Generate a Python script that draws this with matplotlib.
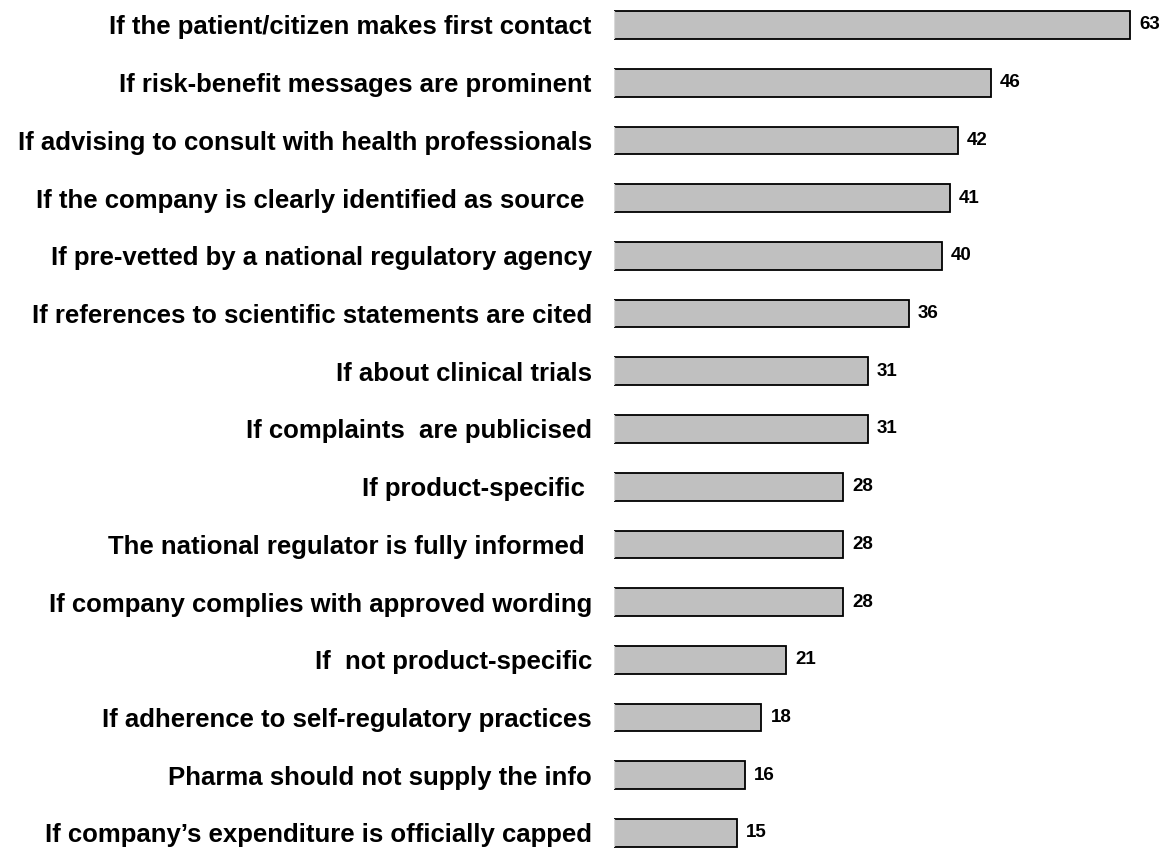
import matplotlib.pyplot as plt

# Survey responses (% agreeing), top to bottom
labels = [
    "If the patient/citizen makes first contact",
    "If risk-benefit messages are prominent",
    "If advising to consult with health professionals",
    "If the company is clearly identified as source ",
    "If pre-vetted by a national regulatory agency",
    "If references to scientific statements are cited",
    "If about clinical trials",
    "If complaints  are publicised",
    "If product-specific ",
    "The national regulator is fully informed ",
    "If company complies with approved wording",
    "If  not product-specific",
    "If adherence to self-regulatory practices",
    "Pharma should not supply the info",
    "If company\u2019s expenditure is officially capped",
]
values = [63, 46, 42, 41, 40, 36, 31, 31, 28, 28, 28, 21, 18, 16, 15]

plt.rcParams['font.family'] = ['Liberation Sans', 'DejaVu Sans']

fig = plt.figure(figsize=(11.68, 8.48), dpi=100)
ax = fig.add_axes([0.5257, 0.0, 0.47, 1.0])

ypos = list(range(len(values)))
ax.barh(ypos, values, height=0.48, color='#C0C0C0',
        edgecolor='black', linewidth=1.3, zorder=2)
# left side of each bar is drawn in a light grey instead of black
ax.vlines([0] * len(values), [y - 0.24 for y in ypos], [y + 0.24 for y in ypos],
          colors='#D8D8D8', linewidth=1.6, zorder=3)

for y, v in zip(ypos, values):
    ax.annotate(str(v), (v, y), xytext=(6.5, 0), textcoords='offset points',
                ha='left', va='center', fontsize=13.5, fontweight='bold')

ax.set_xlim(0, 67)
ax.set_ylim(14.26, -0.433)
ax.set_yticks(ypos)
ax.set_yticklabels(labels, fontsize=18.5, fontweight='bold')
ax.tick_params(axis='y', length=0, pad=16)
ax.set_xticks([])
for s in ax.spines.values():
    s.set_visible(False)

fig.savefig('out.png', dpi=100)
